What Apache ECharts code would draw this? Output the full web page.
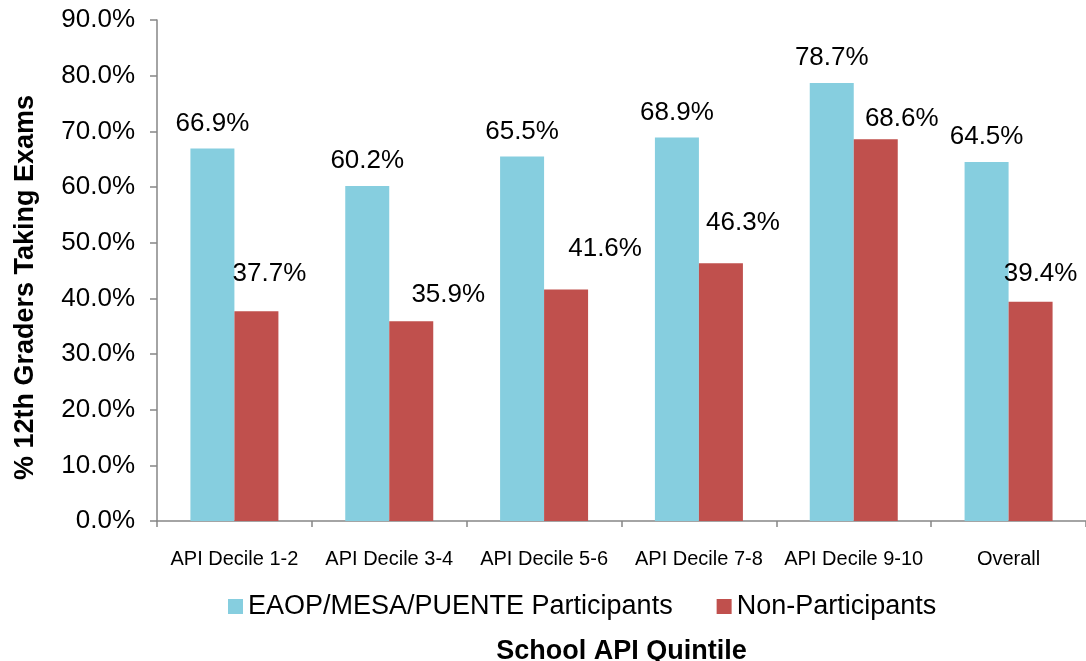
<!DOCTYPE html>
<html>
<head>
<meta charset="utf-8">
<script src="https://cdn.jsdelivr.net/npm/echarts@6/dist/echarts.min.js"></script>
<style>
    html, body { margin: 0; padding: 0; background: #fff; }
    #main { width: 1086px; height: 661px; }
</style>
</head>
<body>
<div id="main"></div>
<script>
// 类目与数据
const categories = ['API Decile 1-2', 'API Decile 3-4', 'API Decile 5-6', 'API Decile 7-8', 'API Decile 9-10', 'Overall']
const participants = [66.9, 60.2, 65.5, 68.9, 78.7, 64.5]
const nonParticipants = [37.7, 35.9, 41.6, 46.3, 68.6, 39.4]

// 原图中红色柱的标签被手动挪过位置
const nonPartLabelOffset = [[13, -12], [37, -1], [39, -16], [22, -15], [26, 5], [10, -3]]

let myChart = echarts.init(document.getElementById('main'))

const labelStyle = {
    show: true,
    position: 'top',
    distance: 12,
    fontFamily: 'Liberation Sans, Arial',
    fontSize: 26,
    color: '#000',
    formatter: p => p.value.toFixed(1) + '%'
}

myChart.setOption({
    animation: false,
    textStyle: { fontFamily: 'Liberation Sans, Arial' },
    grid: { left: 157, right: 0, top: 20, bottom: 140, outerBoundsMode: 'none', containLabel: false },
    legend: {
        bottom: 36,
        left: 223,
        itemWidth: 15,
        itemHeight: 15,
        itemGap: 44,
        icon: 'rect',
        textStyle: { fontSize: 27, color: '#000' },
        data: ['EAOP/MESA/PUENTE Participants', 'Non-Participants']
    },
    xAxis: {
        type: 'category',
        data: categories,
        name: 'School API Quintile',
        nameLocation: 'middle',
        nameGap: 117,
        nameTextStyle: { fontSize: 27, fontWeight: 'bold', color: '#000' },
        axisLine: { lineStyle: { color: '#868686', width: 1.5 } },
        axisTick: { show: true, length: 6, lineStyle: { color: '#868686', width: 1.5 } },
        axisLabel: { fontSize: 20, color: '#000', margin: 28, interval: 0, hideOverlap: false }
    },
    yAxis: {
        type: 'value',
        min: 0,
        max: 90,
        interval: 10,
        name: '% 12th Graders Taking Exams',
        nameLocation: 'middle',
        nameGap: 118,
        nameTextStyle: { fontSize: 27, fontWeight: 'bold', color: '#000', padding: [0, 34, 0, 0] },
        axisLine: { show: true, lineStyle: { color: '#868686', width: 1.5 } },
        axisTick: { show: true, length: 7, lineStyle: { color: '#868686', width: 1.5 } },
        splitLine: { show: false },
        axisLabel: {
            fontSize: 26,
            color: '#000',
            margin: 22,
            formatter: v => v.toFixed(1) + '%'
        }
    },
    series: [{
        name: 'EAOP/MESA/PUENTE Participants',
        type: 'bar',
        data: participants,
        barWidth: 44,
        barGap: '0%',
        itemStyle: { color: '#86CEDF' },
        label: labelStyle
    }, {
        name: 'Non-Participants',
        type: 'bar',
        data: nonParticipants.map((v, i) => ({ value: v, label: { offset: nonPartLabelOffset[i] } })),
        barWidth: 44,
        barGap: '0%',
        itemStyle: { color: '#C0504D' },
        label: labelStyle
    }]
})
</script>
</body>
</html>
